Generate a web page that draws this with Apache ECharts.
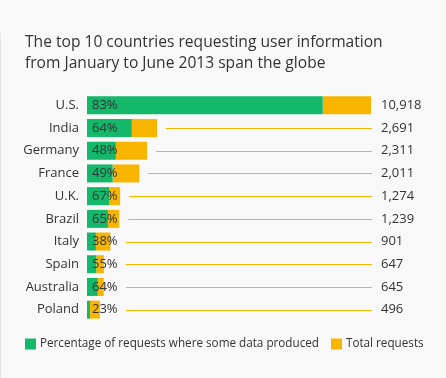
<!DOCTYPE html>
<html>
<head>
<meta charset="utf-8">
<script src="https://cdn.jsdelivr.net/npm/echarts@6/dist/echarts.min.js"></script>
<style>
html,body{margin:0;padding:0;background:#f8f8f8;}
#chart{width:446px;height:378px;}
</style>
</head>
<body>
<div id="chart"></div>
<script>
var countries = ['U.S.', 'India', 'Germany', 'France', 'U.K.', 'Brazil', 'Italy', 'Spain', 'Australia', 'Poland'];
var totals = [10918, 2691, 2311, 2011, 1274, 1239, 901, 647, 645, 496];
var pct = [83, 64, 48, 49, 67, 65, 38, 55, 64, 23];
var seriesNames = ['Percentage of requests where some data produced', 'Total requests'];
var titleText = 'The top 10 countries requesting user information\nfrom January to June 2013 span the globe';

var GREEN = '#14b86a', YELLOW = '#f7b500', TEXT = '#333333';
var FONT = '"Open Sans", sans-serif';

var greenData = totals.map(function (t, i) { return { value: t * pct[i] / 100, pct: pct[i] }; });
var yellowData = totals.map(function (t, i) { return t - t * pct[i] / 100; });
var lineData = totals.map(function (t, i) { return [i, t]; });
var totalLabels = totals.map(function (t) { return t.toLocaleString('en-US'); });

var chart = echarts.init(document.getElementById('chart'));
var gridLeft = 87, gridRight = 75;
chart.setOption({
  backgroundColor: '#f8f8f8',
  animation: false,
  title: {
    text: titleText, left: 25, top: 32, padding: 0,
    textStyle: { fontFamily: FONT, fontSize: 15.6, fontWeight: 'normal', color: TEXT, lineHeight: 21 }
  },
  graphic: [{ type: 'rect', shape: { x: 0, y: 33, width: 1, height: 345 }, style: { fill: '#e6e6e6' } }],
  legend: {
    left: 25, top: 338, padding: 0, itemWidth: 11, itemHeight: 11, itemGap: 12, icon: 'rect',
    textStyle: { fontFamily: FONT, fontSize: 11.7, color: TEXT, padding: [0, 0, 0, -1] },
    data: seriesNames
  },
  grid: { left: gridLeft, right: gridRight, top: 94, bottom: 57 },
  xAxis: { type: 'value', min: 0, max: totals[0], show: false },
  yAxis: [{
    type: 'category', data: countries, inverse: true,
    axisLine: { show: false }, axisTick: { show: false },
    axisLabel: { fontFamily: FONT, fontSize: 13, color: TEXT, margin: 8 }
  }, {
    type: 'category', data: totalLabels, inverse: true, position: 'right',
    axisLine: { show: false }, axisTick: { show: false },
    axisLabel: { fontFamily: FONT, fontSize: 13, color: TEXT, margin: 10, align: 'left' }
  }],
  series: [{
    name: seriesNames[0], type: 'bar', stack: 'a', barWidth: 18, data: greenData,
    itemStyle: { color: GREEN },
    label: { show: true, position: 'insideLeft', distance: 5, fontFamily: FONT, fontSize: 13, color: TEXT,
      formatter: function (p) { return p.data.pct + '%'; } },
    z: 3
  }, {
    name: seriesNames[1], type: 'bar', stack: 'a', barWidth: 18, data: yellowData,
    itemStyle: { color: YELLOW }, z: 2
  }, {
    type: 'custom', data: lineData, silent: true,
    renderItem: function (params, api) {
      var idx = api.value(0);
      var p = api.coord([api.value(1), idx]);
      var end = api.coord([totals[0], idx])[0] + 1;
      var start = Math.max(p[0], gridLeft + 30) + 9;
      if (start >= end) return null;
      return { type: 'line', shape: { x1: start, y1: Math.round(p[1]) + 0.5, x2: end, y2: Math.round(p[1]) + 0.5 },
        style: { stroke: YELLOW, lineWidth: 1 } };
    },
    z: 1
  }]
});
</script>
</body>
</html>
